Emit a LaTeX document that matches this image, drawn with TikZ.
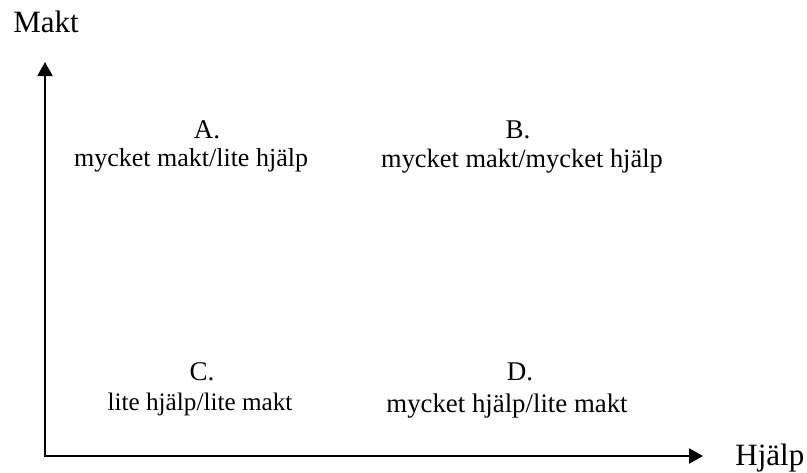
\documentclass[tikz,border=0pt]{standalone}
\usepackage{fontspec}
\setmainfont{Liberation Serif}
\usetikzlibrary{arrows.meta}
\tikzset{
  axes/.style={{Triangle[length=7pt,width=7.5pt]}-{Triangle[length=7pt,width=7.5pt]}, line width=1pt},
  axislabel/.style={anchor=base west, inner sep=0pt, font=\fontsize{15.5}{18}\selectfont},
  letter/.style={anchor=base, inner sep=0pt, font=\fontsize{13.5}{16}\selectfont},
  quad/.style={anchor=base, inner sep=0pt}
}
\begin{document}
\begin{tikzpicture}[x=0.5pt,y=-0.5pt]
  \useasboundingbox (0,0) rectangle (807,472);
  % axes
  \coordinate (ytop) at (45,62);
  \coordinate (origin) at (45,456);
  \coordinate (xend) at (703,456);
  \draw[axes] (ytop) -- (origin) -- (xend);
  \node[axislabel] (makt) at (13,32) {Makt};
  \node[axislabel] (hjalp) at (735,465) {Hjälp};

  % quadrants
  \node[letter] (a) at (207,138) {A.};
  \node[quad, font=\fontsize{13}{16}\selectfont] (adesc) at (191,166) {mycket makt/lite hjälp};
  \node[letter] (b) at (518,138) {B.};
  \node[quad, font=\fontsize{13.2}{16}\selectfont] (bdesc) at (522,167) {mycket makt/mycket hjälp};
  \node[letter] (c) at (202,380) {C.};
  \node[quad, font=\fontsize{12.6}{15}\selectfont] (cdesc) at (200,410) {lite hjälp/lite makt};
  \node[letter] (d) at (520,380) {D.};
  \node[quad, font=\fontsize{13.4}{16}\selectfont] (ddesc) at (507,412) {mycket hjälp/lite makt};
\end{tikzpicture}
\end{document}
